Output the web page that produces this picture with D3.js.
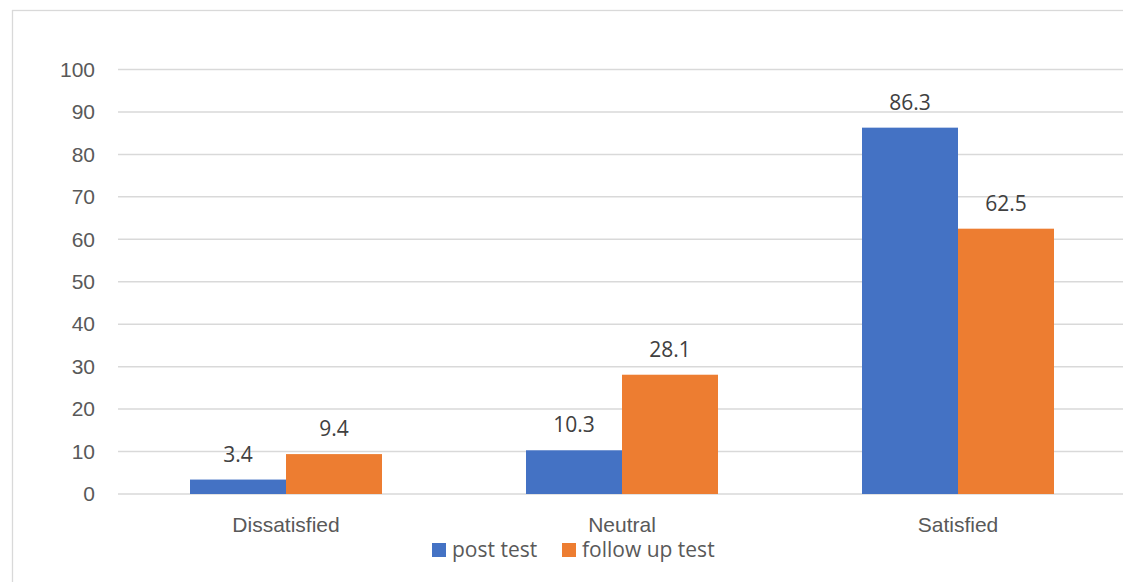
<!DOCTYPE html>
<html>
<head>
<meta charset="utf-8">
<script src="https://cdn.jsdelivr.net/npm/d3@7"></script>
<style>
  html, body { margin: 0; padding: 0; background: #fff; }
  svg { display: block; font-family: "Open Sans", "Liberation Sans", sans-serif; }
</style>
</head>
<body>
<svg id="chart" width="1123" height="582"></svg>
<script>
// Satisfaction levels, post test vs follow up test (%)
const categories = ["Dissatisfied", "Neutral", "Satisfied"];
const seriesNames = ["post test", "follow up test"];
const postTest = [3.4, 10.3, 86.3];
const followUpTest = [9.4, 28.1, 62.5];
const yTicks = [0, 10, 20, 30, 40, 50, 60, 70, 80, 90, 100];
const seriesColors = ["#4472C4", "#ED7D31"];

const svg = d3.select("#chart");
const plot = { left: 118, right: 1126, top: 69.5, bottom: 494 };
const textColor = "#595959";
const gridColor = "#D9D9D9";
const fontSize = 21;

// Outer chart frame (extends past the right and bottom edges)
svg.append("rect")
  .attr("x", 12.5).attr("y", 10.5)
  .attr("width", 1200).attr("height", 700)
  .attr("fill", "#fff")
  .attr("stroke", gridColor).attr("stroke-width", 1.3);

const x0 = d3.scaleBand()
  .domain(categories)
  .range([plot.left, plot.right])
  .paddingInner(144 / 336)
  .paddingOuter(72 / 336);

const x1 = d3.scaleBand()
  .domain(seriesNames)
  .range([0, x0.bandwidth()]);

const y = d3.scaleLinear()
  .domain([0, 100])
  .range([plot.bottom, plot.top]);

// Horizontal gridlines and y tick labels
const yAxis = d3.axisLeft(y).tickValues(yTicks).tickSize(0).tickPadding(23);
const yg = svg.append("g")
  .attr("transform", `translate(${plot.left},0)`)
  .call(yAxis);
yg.select(".domain").remove();
yg.selectAll("text")
  .attr("fill", textColor)
  .style("font-size", fontSize + "px")
  .style("font-family", "inherit");

svg.append("g").selectAll("line")
  .data(yTicks)
  .join("line")
  .attr("x1", plot.left).attr("x2", plot.right)
  .attr("y1", d => y(d)).attr("y2", d => y(d))
  .attr("stroke", gridColor).attr("stroke-width", 1.5);

// Bars
const rows = categories.map((c, i) => ({
  category: c,
  values: [
    { series: seriesNames[0], value: postTest[i], color: seriesColors[0] },
    { series: seriesNames[1], value: followUpTest[i], color: seriesColors[1] }
  ]
}));

const groups = svg.append("g").selectAll("g")
  .data(rows)
  .join("g")
  .attr("transform", d => `translate(${x0(d.category)},0)`);

groups.selectAll("rect")
  .data(d => d.values)
  .join("rect")
  .attr("x", d => x1(d.series))
  .attr("width", x1.bandwidth())
  .attr("y", d => y(d.value))
  .attr("height", d => y(0) - y(d.value))
  .attr("fill", d => d.color);

// Value labels above bars
groups.selectAll("text")
  .data(d => d.values)
  .join("text")
  .attr("x", d => x1(d.series) + x1.bandwidth() / 2)
  .attr("y", d => y(d.value) - 18)
  .attr("text-anchor", "middle")
  .attr("fill", "#404040")
  .style("font-size", fontSize + "px")
  .text(d => d.value);

// Category axis labels
const xAxis = d3.axisBottom(x0).tickSize(0).tickPadding(23);
const xg = svg.append("g")
  .attr("transform", `translate(0,${plot.bottom})`)
  .call(xAxis);
xg.select(".domain").remove();
xg.selectAll("text")
  .attr("fill", textColor)
  .style("font-size", fontSize + "px")
  .style("font-family", "inherit");

// Legend
const legendItems = [
  { name: seriesNames[0], color: seriesColors[0], x: 432 },
  { name: seriesNames[1], color: seriesColors[1], x: 562 }
];
const legend = svg.append("g");
const li = legend.selectAll("g")
  .data(legendItems)
  .join("g")
  .attr("transform", d => `translate(${d.x},543)`);
li.append("rect")
  .attr("width", 14).attr("height", 14)
  .attr("fill", d => d.color);
li.append("text")
  .attr("x", 20).attr("y", 14)
  .attr("fill", textColor)
  .style("font-size", fontSize + "px")
  .text(d => d.name);
</script>
</body>
</html>
